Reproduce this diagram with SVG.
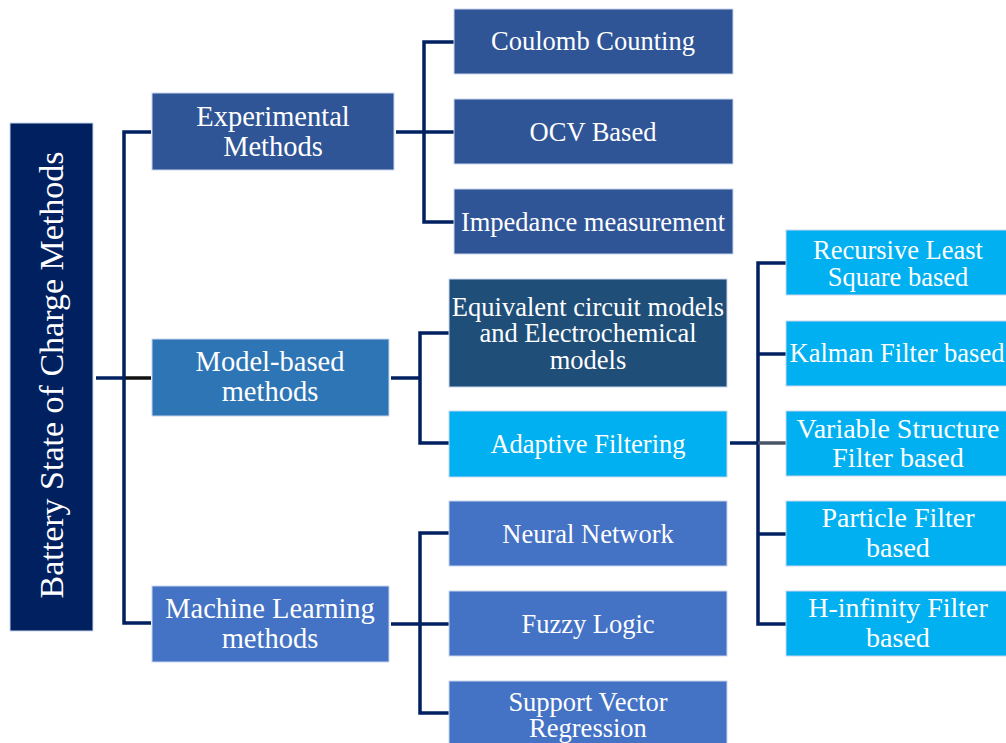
<svg xmlns="http://www.w3.org/2000/svg" width="1006" height="743" viewBox="0 0 1006 743">
<style>
.box{stroke:#c9d6ee;stroke-width:1}
.t{font-family:"Liberation Serif","Times New Roman",serif;fill:#ffffff;text-anchor:middle}
.l1{font-size:28.5px}
.l2{font-size:26.5px}
.c{fill:none;stroke:#002060;stroke-width:3.5;stroke-linecap:butt;stroke-linejoin:miter}
</style>
<rect width="1006" height="743" fill="#ffffff"/>
<g id="connectors">
  <path class="c" d="M96,378 H124"/>
  <path class="c" d="M124,378 H151" style="stroke:#111111"/>
  <path class="c" d="M151,132 H124 V623 H151"/>
  <path class="c" d="M396,132 H424"/>
  <path class="c" d="M454,42 H424 V222 H454"/>
  <path class="c" d="M424,132 H454"/>
  <path class="c" d="M391,378 H420"/>
  <path class="c" d="M449,333 H420 V443 H449"/>
  <path class="c" d="M391,624 H420"/>
  <path class="c" d="M449,533 H420 V713 H449"/>
  <path class="c" d="M420,624 H449"/>
  <path class="c" d="M730,443 H758"/>
  <path class="c" d="M786,263 H758 V624 H786"/>
  <path class="c" d="M758,354 H786"/>
  <path class="c" d="M758,534 H786"/>
  <path class="c" d="M758,443 H786" style="stroke:#4a5568"/>
</g>
<g id="root">
  <rect x="10" y="123" width="83" height="508" fill="#002060" class="box"/>
  <text class="t" font-size="34" transform="translate(63,375) rotate(-90)">Battery State of Charge Methods</text>
</g>
<g id="experimental">
  <rect x="152" y="93" width="242" height="77" fill="#2F5597" class="box"/>
  <text class="t l1" x="273" y="126">Experimental</text>
  <text class="t l1" x="273" y="156">Methods</text>
</g>
<g id="model-based">
  <rect x="152" y="339" width="237" height="77" fill="#2E75B6" class="box"/>
  <text class="t l1" x="270" y="371">Model-based</text>
  <text class="t l1" x="270" y="401">methods</text>
</g>
<g id="machine-learning">
  <rect x="152" y="586" width="237" height="76" fill="#4472C4" class="box"/>
  <text class="t l1" x="270" y="618">Machine Learning</text>
  <text class="t l1" x="270" y="648">methods</text>
</g>
<g id="coulomb">
  <rect x="454" y="9" width="279" height="65" fill="#2F5597" class="box"/>
  <text class="t l2" x="593" y="50">Coulomb Counting</text>
</g>
<g id="ocv">
  <rect x="454" y="99" width="279" height="65" fill="#2F5597" class="box"/>
  <text class="t l2" x="593" y="141">OCV Based</text>
</g>
<g id="impedance">
  <rect x="454" y="189" width="279" height="65" fill="#2F5597" class="box"/>
  <text class="t l2" x="593" y="231">Impedance measurement</text>
</g>
<g id="equivalent">
  <rect x="449" y="279" width="278" height="108" fill="#1F4E79" class="box"/>
  <text class="t l2" x="588" y="316">Equivalent circuit models</text>
  <text class="t l2" x="588" y="342">and Electrochemical</text>
  <text class="t l2" x="588" y="369">models</text>
</g>
<g id="adaptive">
  <rect x="449" y="411" width="278" height="66" fill="#00B0F0" class="box"/>
  <text class="t l2" x="588" y="453">Adaptive Filtering</text>
</g>
<g id="neural">
  <rect x="449" y="501" width="278" height="65" fill="#4472C4" class="box"/>
  <text class="t l2" x="588" y="543">Neural Network</text>
</g>
<g id="fuzzy">
  <rect x="449" y="591" width="278" height="65" fill="#4472C4" class="box"/>
  <text class="t l2" x="588" y="633">Fuzzy Logic</text>
</g>
<g id="svr">
  <rect x="449" y="681" width="278" height="70" fill="#4472C4" class="box"/>
  <text class="t l2" x="588" y="711">Support Vector</text>
  <text class="t l2" x="588" y="737">Regression</text>
</g>
<g id="rls">
  <rect x="786" y="230" width="225" height="65" fill="#00B0F0" class="box"/>
  <text class="t l2" x="898" y="259">Recursive Least</text>
  <text class="t l2" x="898" y="286">Square based</text>
</g>
<g id="kalman">
  <rect x="786" y="321" width="225" height="65" fill="#00B0F0" class="box"/>
  <text class="t l2" x="897" y="362">Kalman Filter based</text>
</g>
<g id="variable-structure">
  <rect x="786" y="411" width="225" height="65" fill="#00B0F0" class="box"/>
  <text class="t" font-size="28" x="898" y="438">Variable Structure</text>
  <text class="t" font-size="28" x="898" y="467">Filter based</text>
</g>
<g id="particle">
  <rect x="786" y="501" width="225" height="65" fill="#00B0F0" class="box"/>
  <text class="t" font-size="28" x="898" y="527">Particle Filter</text>
  <text class="t" font-size="28" x="898" y="557">based</text>
</g>
<g id="h-infinity">
  <rect x="786" y="591" width="225" height="65" fill="#00B0F0" class="box"/>
  <text class="t" font-size="28" x="898" y="617">H-infinity Filter</text>
  <text class="t" font-size="28" x="898" y="647">based</text>
</g>
</svg>
